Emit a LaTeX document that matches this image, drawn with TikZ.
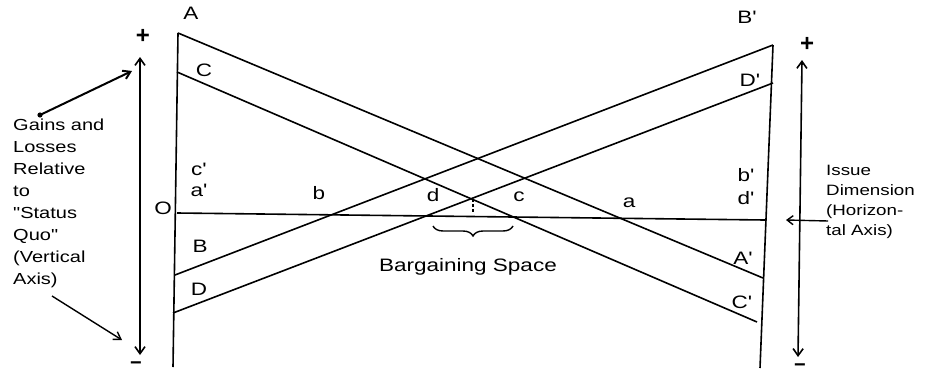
\documentclass[tikz,border=0pt]{standalone}
\usepackage{fontspec}
\setmainfont{Liberation Sans}
\newfontfamily\handfont[FakeStretch=1.25]{Liberation Sans}
\usetikzlibrary{arrows.meta,decorations.pathreplacing}
\begin{document}
\begin{tikzpicture}[x=1pt,y=-1pt,
  ln/.style={line width=1.6pt,black},
  ax/.style={line width=1.6pt,{Straight Barb[length=7pt,width=10pt]}-{Straight Barb[length=7pt,width=10pt]}},
  lbl/.style={font=\handfont\fontsize{18}{18}\selectfont,inner sep=0pt},
  sgn/.style={font=\bfseries\fontsize{24}{24}\selectfont,inner sep=0pt},
  msgn/.style={font=\bfseries\fontsize{20}{20}\selectfont,inner sep=0pt},
  note/.style={font=\handfont\fontsize{16}{22}\selectfont,align=left,inner sep=0pt,anchor=north west},
  ptr/.style={line width=2pt,-{Straight Barb[length=7pt,width=9pt]}}]
\useasboundingbox (0,0) rectangle (933,380);
% frame points
\coordinate (A) at (178,33);
\coordinate (C) at (177,72);
\coordinate (O) at (177,213);
\coordinate (B) at (175,275);
\coordinate (D) at (173,313);
\coordinate (Lbot) at (173,367);
\coordinate (Bp) at (773,45);
\coordinate (Dp) at (773,83);
\coordinate (Op) at (765,220);
\coordinate (Ap) at (763,278);
\coordinate (Cp) at (757,322);
\coordinate (Rbot) at (760,368);
% verticals
\draw[ln] (A) -- (Lbot);
\draw[ln] (Bp) -- (Rbot);
% horizontal axis
\draw[ln] (O) -- (Op);
% utility lines
\draw[ln] (A) -- (Ap);
\draw[ln] (C) -- (Cp);
\draw[ln] (B) -- (Bp);
\draw[ln] (D) -- (Dp);
% tick at C-D crossing
\coordinate (X) at (473,199);
\coordinate (Xa) at (473,213);
\draw[line width=1.2pt,dash pattern=on 3pt off 2pt] (X) -- (Xa);
% brace
\coordinate (br1) at (433,226);
\coordinate (br2) at (513,226);
\draw[line width=1.4pt,decorate,decoration={brace,mirror,amplitude=10pt}] (br1) -- (br2);
\node[lbl] (bs) at (468,267) {Bargaining Space};
% outer axes
\coordinate (la1) at (140,355);
\coordinate (la2) at (140,57);
\draw[ax] (la1) -- (la2);
\coordinate (ra1) at (798,357);
\coordinate (ra2) at (802,60);
\draw[ax] (ra1) -- (ra2);
\node[sgn] (lp) at (143,36) {+};
\node[msgn] (lm) at (136,366) {−};
\node[sgn] (rp) at (807,44) {+};
\node[msgn] (rm) at (800,368) {−};
% line labels
\node[lbl] (tA) at (191,13) {A};
\node[lbl] (tC) at (204,70) {C};
\node[lbl] (tc1) at (199,169) {c'};
\node[lbl] (ta1) at (199,190) {a'};
\node[lbl] (tO) at (163,208) {O};
\node[lbl] (tB) at (200,246) {B};
\node[lbl] (tD) at (199,289) {D};
\node[lbl] (tb) at (319,193) {b};
\node[lbl] (td) at (433,195) {d};
\node[lbl] (tcc) at (519,197) {c};
\node[lbl] (ta) at (629,203) {a};
\node[lbl] (tb1) at (746,175) {b'};
\node[lbl] (td1) at (746,198) {d'};
\node[lbl] (tBp) at (747,17) {B'};
\node[lbl] (tDp) at (750,80) {D'};
\node[lbl] (tAp) at (743,258) {A'};
\node[lbl] (tCp) at (742,302) {C'};
% left note
\node[note] (gl) at (13,119) {Gains and\\Losses\\Relative\\to\\"Status\\Quo"\\(Vertical\\Axis)};
\coordinate (g1) at (40,115);
\coordinate (g2) at (132,71);
\fill (g1) circle (2.6pt);
\draw[ptr] (g1) -- (g2);
\coordinate (g3) at (52,296);
\coordinate (g4) at (122,340);
\draw[line width=1.4pt,-{Straight Barb[length=7pt,width=9pt]}] (g3) -- (g4);
% right note
\node[note,font=\handfont\fontsize{15}{20}\selectfont] (il) at (826,165) {Issue\\Dimension\\(Horizon-\\tal Axis)};
\coordinate (i1) at (828,221);
\coordinate (i2) at (786,220);
\draw[line width=1.4pt,-{Straight Barb[length=6pt,width=9pt]}] (i1) -- (i2);
\end{tikzpicture}
\end{document}
